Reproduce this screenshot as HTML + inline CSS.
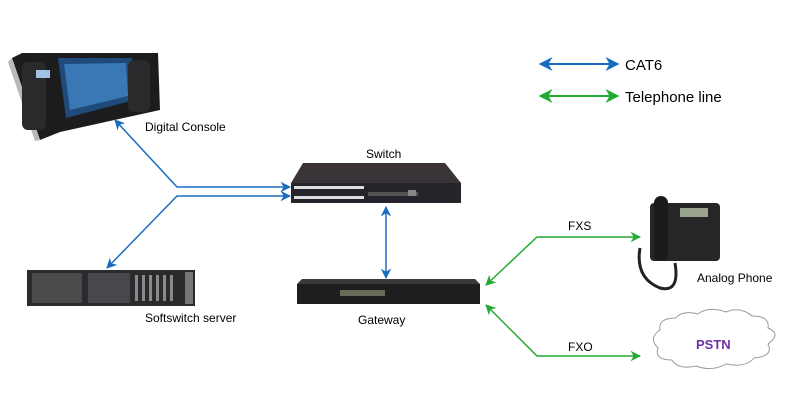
<!DOCTYPE html>
<html><head><meta charset="utf-8"><style>
body{margin:0;background:#fff;}
svg{display:block;font-family:"Liberation Sans",Arial,sans-serif;}
</style></head><body>
<svg width="800" height="412" viewBox="0 0 800 412" xmlns="http://www.w3.org/2000/svg">
<defs>
<marker id="b" viewBox="0 0 10 10" refX="9" refY="5" markerWidth="7" markerHeight="7" orient="auto-start-reverse"><path d="M0,0 L10,5 L0,10 L3,5z" fill="#1a6cc0"/></marker>
<marker id="g" viewBox="0 0 10 10" refX="9" refY="5" markerWidth="7" markerHeight="7" orient="auto-start-reverse"><path d="M0,0 L10,5 L0,10 L3,5z" fill="#22aa33"/></marker>
</defs>
<line x1="540" y1="64" x2="618" y2="64" stroke="#1a6cc0" stroke-width="2" marker-start="url(#b)" marker-end="url(#b)"/>
<text x="625" y="70" font-size="15">CAT6</text>
<line x1="540" y1="96" x2="618" y2="96" stroke="#22aa33" stroke-width="2" marker-start="url(#g)" marker-end="url(#g)"/>
<text x="625" y="102" font-size="15">Telephone line</text>

<g>
<polygon points="12,58 22,53 158,53 160,110 60,132 40,140" fill="#1c1c1e"/>
<polygon points="12,58 40,140 35,141 8,62" fill="#b9b9bb"/>
<polygon points="58,58 132,58 134,100 66,118" fill="#1f4a7a"/>
<polygon points="64,64 126,63 128,96 70,110" fill="#3a78b5"/>
<rect x="22" y="62" width="24" height="68" rx="6" fill="#2a2a2c"/>
<rect x="128" y="60" width="22" height="52" rx="6" fill="#2a2a2c"/>
<rect x="36" y="70" width="14" height="8" fill="#9fc3e8"/>
</g>
<text x="145" y="131" font-size="12">Digital Console</text>

<polyline points="115,120 177,187 290,187" fill="none" stroke="#1a6cc0" stroke-width="1.5" marker-start="url(#b)" marker-end="url(#b)"/>
<polyline points="107,268 177,196 290,196" fill="none" stroke="#1a6cc0" stroke-width="1.5" marker-start="url(#b)" marker-end="url(#b)"/>
<line x1="386" y1="207" x2="386" y2="278" stroke="#1a6cc0" stroke-width="1.5" marker-start="url(#b)" marker-end="url(#b)"/>

<text x="366" y="158" font-size="12">Switch</text>
<polygon points="303,163 445,163 461,183 291,183" fill="#3a3438"/>
<rect x="291" y="183" width="170" height="20" fill="#26232a"/>
<g fill="#ddd">
<rect x="294" y="186" width="70" height="3"/><rect x="294" y="196" width="70" height="3"/>
<rect x="368" y="192" width="50" height="4" fill="#555"/>
<rect x="408" y="190" width="8" height="6" fill="#888"/>
</g>

<rect x="27" y="270" width="168" height="36" fill="#2b2b2d"/>
<rect x="32" y="273" width="50" height="30" fill="#4a4a4c"/>
<rect x="88" y="273" width="42" height="30" fill="#48484c"/>
<g fill="#8a8a8c"><rect x="135" y="275" width="3" height="26"/><rect x="142" y="275" width="3" height="26"/><rect x="149" y="275" width="3" height="26"/><rect x="156" y="275" width="3" height="26"/><rect x="163" y="275" width="3" height="26"/><rect x="170" y="275" width="3" height="26"/></g>
<rect x="185" y="272" width="8" height="32" fill="#777"/>
<text x="145" y="322" font-size="12">Softswitch server</text>

<polygon points="302,279 475,279 480,284 297,284" fill="#3a3a3c"/>
<rect x="297" y="284" width="183" height="20" fill="#1e1e20"/>
<rect x="340" y="290" width="45" height="6" fill="#6a6a58"/>
<text x="358" y="324" font-size="12">Gateway</text>

<polyline points="486,285 537,237 640,237" fill="none" stroke="#22aa33" stroke-width="1.5" marker-start="url(#g)" marker-end="url(#g)"/>
<polyline points="486,305 537,356 640,356" fill="none" stroke="#22aa33" stroke-width="1.5" marker-start="url(#g)" marker-end="url(#g)"/>
<text x="568" y="230" font-size="12">FXS</text>
<text x="568" y="351" font-size="12">FXO</text>

<rect x="650" y="203" width="70" height="58" rx="4" fill="#262628"/>
<rect x="654" y="196" width="14" height="65" rx="7" fill="#1a1a1c"/>
<rect x="680" y="208" width="28" height="9" fill="#9aa290"/>
<path d="M640,248 q-5,30 20,40 q20,5 15,-25" fill="none" stroke="#222" stroke-width="3"/>
<text x="697" y="282" font-size="12">Analog Phone</text>

<path d="M660,330 q-2,-12 16,-12 q6,-8 22,-4 q10,-8 28,-2 q14,-6 26,4 q18,0 16,12 q14,6 0,16 q6,12 -14,14 q-8,10 -28,6 q-14,8 -30,2 q-18,4 -24,-6 q-18,0 -14,-12 q-10,-10 2,-18z" fill="#fff" stroke="#999" stroke-width="1"/>
<text x="696" y="349" font-size="13" font-weight="bold" fill="#7030a0">PSTN</text>
</svg>
</body></html>
